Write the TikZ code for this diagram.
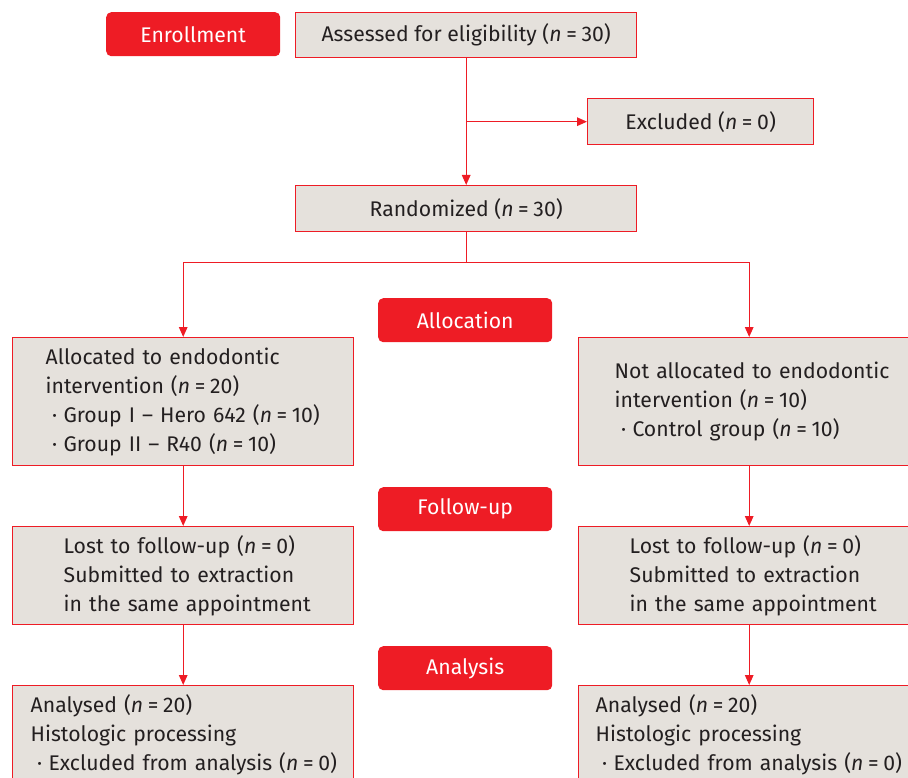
\documentclass[tikz,border=0pt]{standalone}
\usepackage{fontspec}
\setmainfont{Fira Sans}
\usetikzlibrary{arrows.meta,calc}
\definecolor{cred}{HTML}{EE1C25}
\definecolor{cfill}{HTML}{E5E1DC}
\definecolor{ctext}{HTML}{231F20}
\newcommand{\nn}[1]{(\textit{n}\hspace{0.22em}=\hspace{0.22em}#1)}
\newcommand{\bul}{\hspace*{0.3em}·\hspace{0.3em}}
\tikzset{
  stage/.style={fill=cred, rounded corners=5pt, text=white, minimum width=174pt, minimum height=44pt, inner sep=0pt, anchor=north west, font=\fontsize{21.2}{28}\selectfont},
  cbox/.style={draw=cred, line width=1.4pt, fill=cfill, text=ctext, minimum width=341pt, anchor=north west, inner sep=0pt, font=\fontsize{21.2}{28.9}\selectfont},
  tbox/.style={cbox, align=left, text width=341pt-2*#1, inner xsep=#1},
  conn/.style={draw=cred, line width=1.4pt},
  arr/.style={conn, -{Triangle[length=10pt,width=8.5pt]}}
}
\begin{document}
\begin{tikzpicture}[x=1pt,y=-1pt]
\useasboundingbox (0,0) rectangle (908,778);
\clip (0,0) rectangle (908,778);
% stage labels
\node[stage] (enr) at (106,12) {Enrollment};
\node[stage] (alloc) at (378,298) {Allocation};
\node[stage] (fol) at (378,487) {Follow-up};
\node[stage] (ana) at (378,646) {Analysis};
% top boxes
\node[cbox, minimum height=45pt] (ass) at (295,12) {Assessed for eligibility \nn{30}};
\node[cbox, minimum width=226pt, minimum height=46pt] (exc) at (587,98) {Excluded \nn{0}};
\node[cbox, minimum height=46pt] (ran) at (295,185) {Randomized \nn{30}};
% left column
\node[tbox=33pt, minimum height=128pt] (l1) at (12,337) {\mbox{Allocated to endodontic}\\\mbox{intervention \nn{20}}\\\mbox{\bul Group I -- Hero 642 \nn{10}}\\\mbox{\bul Group II -- R40 \nn{10}}};
\node[tbox=51pt, minimum height=98pt] (l2) at (12,526) {\mbox{Lost to follow-up \nn{0}}\\\mbox{Submitted to extraction}\\\mbox{in the same appointment}};
\node[tbox=18pt, minimum height=98pt] (l3) at (12,685) {\mbox{Analysed \nn{20}}\\\mbox{Histologic processing}\\\mbox{\bul Excluded from analysis \nn{0}}};
% right column
\node[tbox=36pt, minimum height=128pt] (r1) at (578,337) {\mbox{Not allocated to endodontic}\\\mbox{intervention \nn{10}}\\\mbox{\bul Control group \nn{10}}};
\node[tbox=51pt, minimum height=98pt] (r2) at (578,526) {\mbox{Lost to follow-up \nn{0}}\\\mbox{Submitted to extraction}\\\mbox{in the same appointment}};
\node[tbox=17pt, minimum height=98pt] (r3) at (578,685) {\mbox{Analysed \nn{20}}\\\mbox{Histologic processing}\\\mbox{\bul Excluded from analysis \nn{0}}};
% connectors
\draw[arr] (ass.south) -- (ran.north);
\coordinate (bx) at (ass.south |- exc.west);
\draw[arr] (bx) -- (exc.west);
\coordinate (split) at ($(ran.south)+(0,30)$);
\draw[conn] (ran.south) -- (split);
\draw[arr] (split) -| (l1.north);
\draw[arr] (split) -| (r1.north);
\draw[arr] (l1.south) -- (l2.north);
\draw[arr] (l2.south) -- (l3.north);
\draw[arr] (r1.south) -- (r2.north);
\draw[arr] (r2.south) -- (r3.north);
\end{tikzpicture}
\end{document}
